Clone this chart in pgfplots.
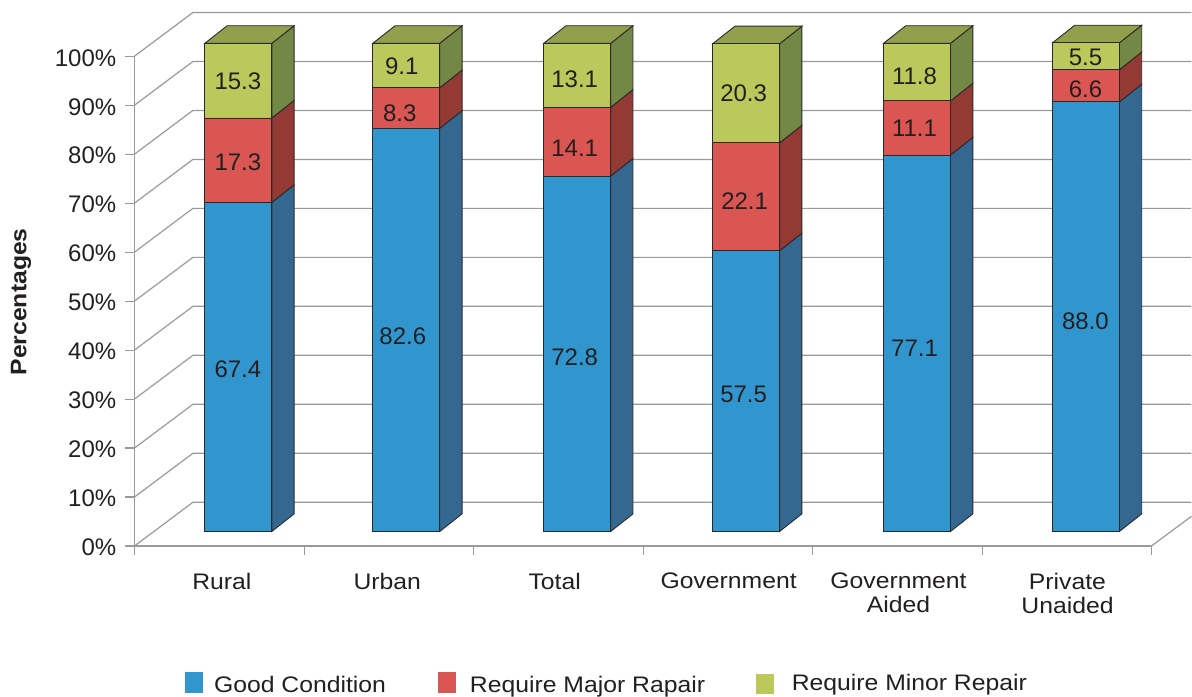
\documentclass[border=0pt]{standalone}
\usepackage{pgfplots}
\usepackage{fontspec}
\pgfplotsset{compat=1.18}
\setmainfont{Liberation Sans}
\newfontfamily\wide[FakeStretch=1.1]{Liberation Sans}
\definecolor{axg}{HTML}{9A9A9A}
\definecolor{txt}{HTML}{231F20}
\definecolor{edge}{HTML}{2A2A2A}
\definecolor{cB}{HTML}{3196CE}
\definecolor{cBs}{HTML}{356891}
\definecolor{cR}{HTML}{D95652}
\definecolor{cRs}{HTML}{933A35}
\definecolor{cG}{HTML}{BBC95C}
\definecolor{cGs}{HTML}{748845}
\definecolor{cGt}{HTML}{929F4D}
% one wall line: front-plane tick -> back wall -> right edge
\newcommand{\wall}[1]{%
  \pgfmathsetmacro{\yb}{#1+8.94}%
  \addplot[axg,line width=1.2pt,line join=round] coordinates {(134.5,#1)(193,\yb)(1192,\yb)};}
% side faces and top of one bar: right edge, three values
\newcommand{\faces}[4]{%
  \pgfmathsetmacro{\xb}{#1+22.3}\pgfmathsetmacro{\xl}{#1-67}\pgfmathsetmacro{\xt}{\xl+22.3}%
  \pgfmathsetmacro{\a}{#2}\pgfmathsetmacro{\b}{#2+#3}\pgfmathsetmacro{\c}{#2+#3+#4}%
  \pgfmathsetmacro{\aa}{\a+3.6}\pgfmathsetmacro{\bb}{\b+3.6}\pgfmathsetmacro{\cc}{\c+3.6}%
  \addplot[fill=cBs,draw=edge,line width=0.9pt] coordinates {(#1,0)(\xb,3.6)(\xb,\aa)(#1,\a)} --cycle;
  \addplot[fill=cRs,draw=edge,line width=0.9pt] coordinates {(#1,\a)(\xb,\aa)(\xb,\bb)(#1,\b)} --cycle;
  \addplot[fill=cGs,draw=edge,line width=0.9pt] coordinates {(#1,\b)(\xb,\bb)(\xb,\cc)(#1,\c)} --cycle;
  \addplot[fill=cGt,draw=edge,line width=0.9pt] coordinates {(\xl,\c)(#1,\c)(\xb,\cc)(\xt,\cc)} --cycle;}
\begin{document}
\begin{tikzpicture}[every node/.append style={text=txt}]
\pgfplotsset{base/.style={scale only axis,width=1017.5pt,height=490pt,xmin=134.5,xmax=1152,clip=false}}
% axis, ticks and wall
\begin{axis}[base,ymin=0,ymax=100,
  axis lines=left,axis line style={-,color=axg,line width=1.2pt},
  tick style={color=axg,line width=1.2pt},tick align=outside,major tick length=9pt,
  ytick={0,10,...,100},
  yticklabels={0\%,10\%,20\%,30\%,40\%,50\%,60\%,70\%,80\%,90\%,100\%},
  yticklabel style={font=\fontsize{24}{28}\selectfont,inner sep=0pt,xshift=-9pt,yshift=-1.5pt,text=txt},
  xtick={134.5,305,474,644,813,983.3,1152},xticklabels={},
  extra x ticks={222,387.5,555,729,899,1068},
  extra x tick labels={Rural,Urban,Total,Government,{Government\\Aided},{Private\\Unaided}},
  extra x tick style={major tick length=0pt,
    tick label style={font=\wide\fontsize{22.5}{24}\selectfont,align=center,inner sep=0pt,yshift=-27pt,text=txt}},
  ylabel={Percentages},
  ylabel style={at={(axis description cs:-0.1115,0.4986)},anchor=center,
    font=\wide\bfseries\fontsize{22.5}{26}\selectfont,text=txt,inner sep=0pt},
]
\wall{0}\wall{10}\wall{20}\wall{30}\wall{40}\wall{50}\wall{60}\wall{70}\wall{80}\wall{90}\wall{100}
\addplot[axg,line width=1.2pt] coordinates {(1152,0)(1192,6.06)};
\end{axis}
% side and top faces of the bars
\begin{axis}[base,hide axis,ymin=-2.989,ymax=97.34]
\faces{272}{67.4}{17.3}{15.3}
\faces{440}{82.6}{8.3}{9.1}
\faces{611}{72.8}{14.1}{13.1}
\faces{780}{57.5}{22.1}{20.3}
\faces{951}{77.1}{11.1}{11.8}
\faces{1120}{88.0}{6.6}{5.5}
\end{axis}
% front faces
\begin{axis}[base,hide axis,ymin=-2.989,ymax=97.34,ybar stacked,bar width=67pt,
  every axis plot/.append style={draw=edge,line width=0.9pt}]
\addplot[fill=cB] coordinates {(238.5,67.4)(406.5,82.6)(577.5,72.8)(746.5,57.5)(917.5,77.1)(1086.5,88.0)};
\addplot[fill=cR] coordinates {(238.5,17.3)(406.5,8.3)(577.5,14.1)(746.5,22.1)(917.5,11.1)(1086.5,6.6)};
\addplot[fill=cG] coordinates {(238.5,15.3)(406.5,9.1)(577.5,13.1)(746.5,20.3)(917.5,11.8)(1086.5,5.5)};
\end{axis}
% texts placed in picture pixels
\begin{scope}[shift={(-134.5pt,546.3pt)},x=1pt,y=-1pt]
\path[use as bounding box] (0,0) rectangle (1192,697);
\begin{scope}[every node/.append style={font=\fontsize{24}{28}\selectfont,inner sep=0pt,anchor=center}]
\node at (238,369) {67.4}; \node at (238,162) {17.3}; \node at (238,81) {15.3};
\node at (403,336) {82.6}; \node at (400,113) {8.3}; \node at (402,66) {9.1};
\node at (575,357) {72.8}; \node at (575,148) {14.1}; \node at (575,79) {13.1};
\node at (744,395) {57.5}; \node at (745,201) {22.1}; \node at (744,93) {20.3};
\node at (915,348) {77.1}; \node at (915,128) {11.1}; \node at (915,76) {11.8};
\node at (1086,321) {88.0}; \node at (1086,89) {6.6}; \node at (1086,57) {5.5};
\end{scope}
\fill[cB] (185,672.7) rectangle (203,693);
\fill[cR] (438,672.7) rectangle (456,693);
\fill[cG] (756,674) rectangle (774,694);
\begin{scope}[every node/.append style={font=\wide\fontsize{22.5}{26}\selectfont,inner sep=0pt,anchor=base west}]
\node at (214,692.7) {Good Condition};
\node at (470,692.7) {Require Major Rapair};
\node at (792,690.7) {Require Minor Repair};
\end{scope}
\end{scope}
\end{tikzpicture}
\end{document}
